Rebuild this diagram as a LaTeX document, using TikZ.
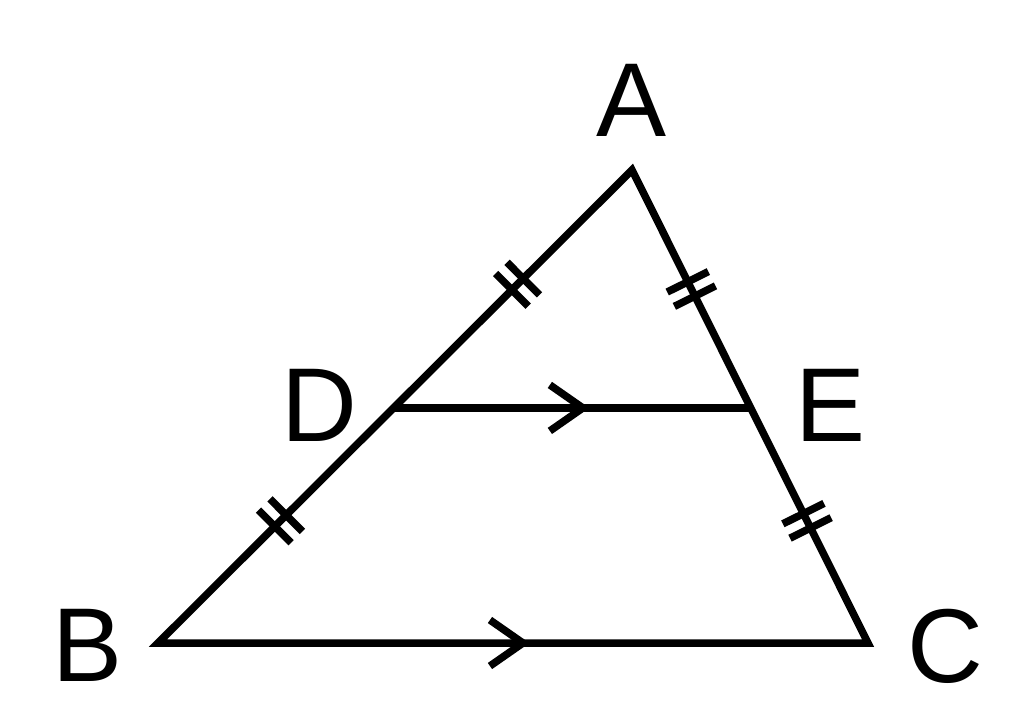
\documentclass[tikz,border=0pt]{standalone}
\usepackage{fontspec}
\setmainfont{Liberation Sans}
\usetikzlibrary{decorations.markings,calc}
\begin{document}
\begin{tikzpicture}[x=1pt,y=-1pt, line width=7.5pt,
 lbl/.style={font=\fontsize{105}{105}\selectfont, inner sep=0pt, anchor=center},
 ticks/.style={postaction={decorate}, decoration={markings, mark=at position #1 with {\draw[line cap=butt] (-8pt,-23pt)--(-8pt,23pt) (8pt,-23pt)--(8pt,23pt);}}},
 chev/.style={postaction={decorate}, decoration={markings, mark=at position #1 with {\draw[line cap=butt, line join=miter] (-33pt,23pt)--(0pt,0pt)--(-33pt,-23pt);}}}]
\useasboundingbox (0,0) rectangle (1024,716);
\coordinate (A) at (632,170);
\coordinate (B) at (158,643);
\coordinate (C) at (868,643);
\coordinate (D) at ($(B)!0.497!(A)$);
\coordinate (E) at ($(C)!0.497!(A)$);
\draw[line join=miter] (A) -- (B) -- (C) -- cycle;
\draw[chev=0.53] (D) -- (E);
\path[chev=0.514] (B) -- (C);
\path[ticks=0.52] (D) -- (A);
\path[ticks=0.52] (B) -- (D);
\path[ticks=0.5] (A) -- (E);
\path[ticks=0.48] (E) -- (C);
\node[lbl] (lA) at (632,100) {A};
\node[lbl] (lB) at (88,645) {B};
\node[lbl] (lC) at (945,646) {C};
\node[lbl] (lD) at (319,405) {D};
\node[lbl] (lE) at (831,405) {E};
\end{tikzpicture}
\end{document}
